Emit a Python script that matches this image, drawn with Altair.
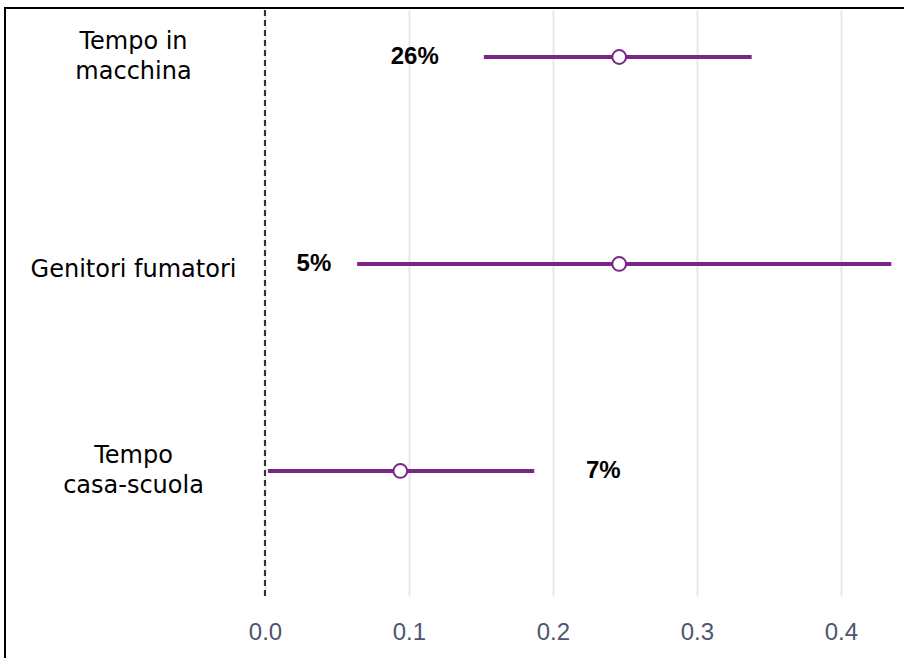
import altair as alt
import pandas as pd

# Effect estimates with their intervals, one row per exposure (top to bottom)
categories = ["Tempo in\nmacchina", "Genitori fumatori", "Tempo\ncasa-scuola"]
estimates = [0.246, 0.246, 0.094]
lower = [0.152, 0.064, 0.002]
upper = [0.338, 0.435, 0.187]

# Percentage annotations and where they sit along the x axis
shares = ["26%", "5%", "7%"]
share_x = [0.104, 0.034, 0.235]

x_ticks = [0.0, 0.1, 0.2, 0.3, 0.4]

n = len(categories)
rows = [n - i for i in range(n)]

df = pd.DataFrame({
    "row": rows,
    "label": categories,
    "est": estimates,
    "lo": lower,
    "hi": upper,
    "share": shares,
    "share_x": share_x,
})

# y-axis labels: each category becomes a (possibly multi-line) label
parts = []
for r, c in zip(rows, categories):
    lines = ",".join("'" + s + "'" for s in c.split("\n"))
    parts.append(f"datum.value == {r} ? [{lines}]")
label_expr = " : ".join(parts) + " : ''"

# two-line labels are lifted so the block is centred on its row
multi_rows = [r for r, c in zip(rows, categories) if "\n" in c]
multi_test = " || ".join(f"datum.value == {r}" for r in multi_rows)

purple = "#7b2587"
x_scale = alt.Scale(domain=[-0.0104, 0.4438], nice=False, zero=False)
y_scale = alt.Scale(domain=[0.396, 3.227], nice=False, zero=False)

base = alt.Chart(df)

intervals = base.mark_rule(color=purple, strokeWidth=4).encode(
    x=alt.X("lo:Q", scale=x_scale, title=None,
            axis=alt.Axis(values=x_ticks, format=".1f", grid=True,
                          gridColor="#e8e8e8", gridWidth=2, domain=False,
                          ticks=False, tickSize=0, labelPadding=24,
                          labelFont="Liberation Sans", labelFontSize=24,
                          labelColor="#4d5670")),
    x2="hi:Q",
    y=alt.Y("row:Q", scale=y_scale, title=None,
            axis=alt.Axis(values=rows, labelExpr=label_expr, grid=False,
                          domain=False, ticks=False, tickSize=0,
                          labelAlign="center", labelBaseline="middle",
                          labelOffset={"condition": {"test": multi_test, "value": -15},
                                       "value": 6},
                          labelPadding=117, labelFont="DejaVu Sans",
                          labelFontSize=24, labelColor="black",
                          labelLineHeight=30, labelLimit=400)),
)

zero_line = alt.Chart(df).mark_rule(
    color="#333333", strokeWidth=2, strokeDash=[6, 4]
).encode(x=alt.datum(0, scale=x_scale))

points = base.mark_point(
    shape="circle", filled=True, fill="white", stroke=purple,
    strokeWidth=2, size=190, opacity=1
).encode(
    x=alt.X("est:Q", scale=x_scale),
    y=alt.Y("row:Q", scale=y_scale),
)

share_text = base.mark_text(
    font="Liberation Sans", fontWeight="bold", fontSize=24,
    color="black", align="center", baseline="middle"
).encode(
    x=alt.X("share_x:Q", scale=x_scale),
    y=alt.Y("row:Q", scale=y_scale),
    text="share:N",
)

# Outer frame along the top and left edges of the figure
frame_top = alt.Chart(df).mark_rule(color="black", strokeWidth=2).encode(
    x=alt.value(-246), x2=alt.value(654), y=alt.value(-2)
)
frame_left = alt.Chart(df).mark_rule(color="black", strokeWidth=2).encode(
    x=alt.value(-245), y=alt.value(-3), y2=alt.value(648)
)

chart = alt.layer(
    zero_line, intervals, points, share_text, frame_top, frame_left
).properties(
    width=654,
    height=586,
    padding={"left": 250, "top": 10, "right": 0, "bottom": 62},
    autosize=alt.AutoSizeParams(type="none"),
    background="white",
).configure_view(stroke=None)

chart.save("out.html", embed_options={"renderer": "svg", "actions": False})
